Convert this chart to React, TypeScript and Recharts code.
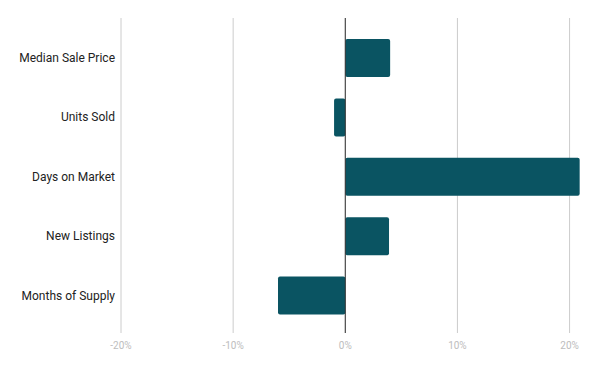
import React from "react";
import { BarChart, Bar, XAxis, YAxis, CartesianGrid, ReferenceLine } from "recharts";

const categories = ["Median Sale Price", "Units Sold", "Days on Market", "New Listings", "Months of Supply"];
const changes = [4.0, -1.0, 20.9, 3.9, -6.0];
const xTicks = [-20, -10, 0, 10, 20];

const data = categories.map((name, i) => ({ name, change: changes[i] }));

const BAR_COLOR = "#0a5462";

const App: React.FC = () => {
  return (
    <div style={{ position: "absolute", left: 0, top: 0, fontFamily: "Roboto, sans-serif" }}>
      <BarChart
        width={600}
        height={371}
        data={data}
        layout="vertical"
        margin={{ top: 18, right: 8, bottom: 8, left: 1 }}
        barSize={38}
      >
        <CartesianGrid horizontal={false} stroke="#cccccc" verticalValues={xTicks} />
        <XAxis
          type="number"
          domain={[-20, 22]}
          ticks={xTicks}
          tickFormatter={(v: number) => `${v}%`}
          axisLine={false}
          tickLine={false}
          tickMargin={3}
          height={30}
          tick={{ fill: "#bdbdbd", fontSize: 10, fontFamily: "Roboto" }}
        />
        <YAxis
          type="category"
          dataKey="name"
          width={120}
          axisLine={false}
          tickLine={false}
          tickSize={3}
          tickMargin={3}
          padding={{ top: 10, bottom: 8 }}
          tick={{ fill: "#222222", fontSize: 12, fontFamily: "Roboto" }}
        />
        <ReferenceLine x={0} stroke="#333333" strokeWidth={1} />
        <Bar dataKey="change" fill={BAR_COLOR} radius={2} isAnimationActive={false} />
      </BarChart>
    </div>
  );
};

export default App;
